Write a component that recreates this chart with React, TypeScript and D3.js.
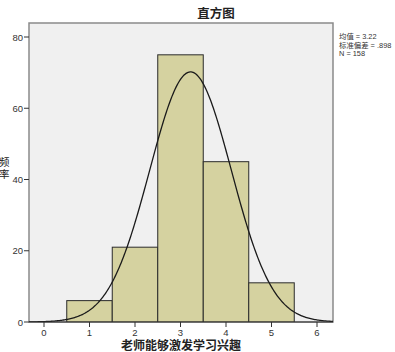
import React from "react";
import * as d3 from "d3";

// Histogram bins (lower edge, upper edge) and frequencies
const binStarts = [0.5, 1.5, 2.5, 3.5, 4.5];
const binEnds = [1.5, 2.5, 3.5, 4.5, 5.5];
const frequencies = [6, 21, 75, 45, 11];

const xTicks = [0, 1, 2, 3, 4, 5, 6];
const yTicks = [0, 20, 40, 60, 80];

const meanValue = 3.22;
const sdValue = 0.898;
const countN = 158;
const statLines = ["均值 = 3.22", "标准偏差 = .898", "N = 158"];
const yLabelChars = ["频", "率"];

const W = 395;
const H = 352;
const frame = { left: 29, right: 333, top: 23, bottom: 322 };

export default function App() {
  const x = d3.scaleLinear().domain([0, 6]).range([44, 317]);
  const y = d3.scaleLinear().domain([0, 80]).range([322, 37]);

  const xMin = x.invert(frame.left);
  const xMax = x.invert(frame.right);
  const binWidth = 1;
  const peak = (countN * binWidth) / (sdValue * Math.sqrt(2 * Math.PI));
  const curvePts: [number, number][] = d3
    .range(0, 301)
    .map((i) => xMin + ((xMax - xMin) * i) / 300)
    .map((v) => [v, peak * Math.exp(-0.5 * ((v - meanValue) / sdValue) ** 2)]);
  const line = d3
    .line<[number, number]>()
    .x((d) => x(d[0]))
    .y((d) => y(d[1]));

  const font = "'Liberation Sans', Arial, sans-serif";
  const cjk = "'Noto Sans CJK SC', sans-serif";
  const mixed = "'Liberation Sans', 'Noto Sans CJK SC', sans-serif";

  return (
    <svg
      width={W}
      height={H}
      style={{ position: "absolute", left: 0, top: 0, background: "#ffffff" }}
    >
      <defs>
        <clipPath id="plotClip">
          <rect
            x={frame.left}
            y={frame.top}
            width={frame.right - frame.left}
            height={frame.bottom - frame.top}
          />
        </clipPath>
      </defs>
      <text
        x={216}
        y={18}
        textAnchor="middle"
        fontFamily={cjk}
        fontWeight="bold"
        fontSize={12.5}
        fill="#222"
      >
        直方图
      </text>
      <rect
        x={frame.left}
        y={frame.top}
        width={frame.right - frame.left}
        height={frame.bottom - frame.top}
        fill="#f0f0f0"
        stroke="#8a8a8a"
        strokeWidth={1.5}
      />
      <g clipPath="url(#plotClip)">
        {frequencies.map((f, i) => (
          <rect
            key={i}
            x={x(binStarts[i])}
            y={y(f)}
            width={x(binEnds[i]) - x(binStarts[i])}
            height={y(0) - y(f)}
            fill="#d5d2a0"
            stroke="#2a2a2a"
            strokeWidth={1}
          />
        ))}
        <path d={line(curvePts) || ""} fill="none" stroke="#1a1a1a" strokeWidth={1.3} />
      </g>
      <line x1={frame.left} x2={frame.right} y1={frame.bottom} y2={frame.bottom} stroke="#333" strokeWidth={1.2} />
      {yTicks.map((t) => (
        <g key={t}>
          <line x1={frame.left - 5} x2={frame.left} y1={y(t)} y2={y(t)} stroke="#333" />
          <text
            x={frame.left - 6}
            y={y(t) + 3.5}
            textAnchor="end"
            fontFamily={font}
            fontSize={9.5}
            fill="#333"
          >
            {t}
          </text>
        </g>
      ))}
      {xTicks.map((t) => (
        <g key={t}>
          <line x1={x(t)} x2={x(t)} y1={frame.bottom} y2={frame.bottom + 5} stroke="#333" />
          <text
            x={x(t)}
            y={frame.bottom + 13.5}
            textAnchor="middle"
            fontFamily={font}
            fontSize={9.5}
            fill="#333"
          >
            {t}
          </text>
        </g>
      ))}
      {/* vertical axis title, one character per line */}
      <text x={-1} y={166} fontFamily={mixed} fontSize={10.5} fill="#222">
        {yLabelChars.map((c, i) => (
          <tspan key={i} x={-1} dy={i === 0 ? 0 : 12.3}>
            {c}
          </tspan>
        ))}
      </text>
      {/* summary statistics block */}
      <text x={339} y={39} fontFamily={mixed} fontSize={7.4} fill="#333">
        {statLines.map((s, i) => (
          <tspan key={i} x={339} dy={i === 0 ? 0 : 8.7}>
            {s}
          </tspan>
        ))}
      </text>
      <text
        x={181}
        y={350}
        textAnchor="middle"
        fontFamily={cjk}
        fontWeight="bold"
        fontSize={12}
        fill="#222"
      >
        老师能够激发学习兴趣
      </text>
    </svg>
  );
}
